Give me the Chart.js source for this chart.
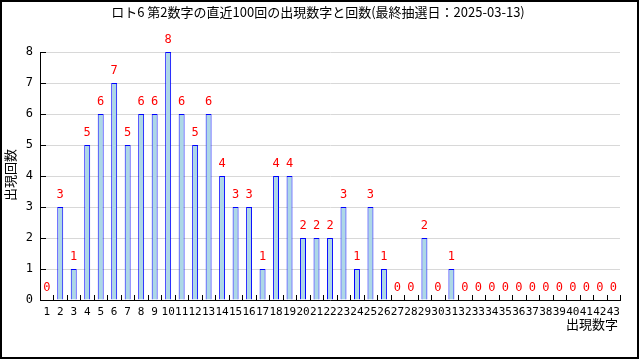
<!DOCTYPE html>
<html>
<head>
<meta charset="utf-8">
<script src="https://cdn.jsdelivr.net/npm/chart.js@4"></script>
<style>
  html, body { margin: 0; padding: 0; background: #fff; }
  #wrap { width: 640px; height: 360px; }
</style>
</head>
<body>
<div id="wrap"><canvas id="chart" width="640" height="360"></canvas></div>
<script>
// ---- data ----
const numbers = ['1','2','3','4','5','6','7','8','9','10','11','12','13','14','15','16','17','18','19','20','21','22',
                 '23','24','25','26','27','28','29','30','31','32','33','34','35','36','37','38','39','40','41','42','43'];
const counts = [0,3,1,5,6,7,5,6,6,8, 6,5,6,4,3,3,1,4,4,2, 2,2,3,1,3,1,0,0,2,0, 1,0,0,0,0,0,0,0,0,0, 0,0,0];
const yTicks = [0,1,2,3,4,5,6,7,8];

const titleText = 'ロト6 第2数字の直近100回の出現数字と回数(最終抽選日：2025-03-13)';
const yTitle = '出現回数';
const xTitle = '出現数字';

const jpFont = '"Noto Sans CJK JP", "DejaVu Sans", sans-serif';
const numFont = '"DejaVu Sans Mono", monospace';

// labels, inward ticks, titles and frame
const decorations = {
    id: 'decorations',
    afterDraw(chart) {
        const { ctx, chartArea: area, scales: { x, y } } = chart;
        ctx.save();

        // inward tick marks
        ctx.strokeStyle = '#000';
        ctx.lineWidth = 1;
        ctx.beginPath();
        yTicks.forEach((t) => {
            const py = Math.round(y.getPixelForValue(t)) + 0.5;
            ctx.moveTo(area.left, py);
            ctx.lineTo(area.left + 6, py);
        });
        for (let i = 0; i <= numbers.length; i += 1) {
            let px;
            if (i === 0) px = area.left;
            else if (i === numbers.length) px = area.right;
            else px = (x.getPixelForValue(i - 1) + x.getPixelForValue(i)) / 2;
            px = Math.round(px) + 0.5;
            ctx.moveTo(px, area.bottom);
            ctx.lineTo(px, area.bottom - 5);
        }
        ctx.stroke();

        // value labels
        ctx.fillStyle = '#ff0000';
        ctx.font = '12px ' + numFont;
        ctx.textAlign = 'center';
        ctx.textBaseline = 'middle';
        const meta = chart.getDatasetMeta(0);
        meta.data.forEach((bar, i) => {
            ctx.fillText(String(counts[i]), bar.x, y.getPixelForValue(counts[i]) - 12);
        });

        // title
        ctx.fillStyle = '#000';
        ctx.font = '13px ' + jpFont;
        ctx.fillText(titleText, 318, 12);

        // x axis title
        ctx.textAlign = 'right';
        ctx.fillText(xTitle, 618, 324);

        // y axis title
        ctx.translate(10, 175);
        ctx.rotate(-Math.PI / 2);
        ctx.textAlign = 'center';
        ctx.fillText(yTitle, 0, 0);
        ctx.restore();

        // outer frame
        ctx.save();
        ctx.strokeStyle = '#000';
        ctx.lineWidth = 2;
        ctx.strokeRect(1, 1, 637, 357);
        ctx.restore();
    }
};

new Chart(document.getElementById('chart'), {
    type: 'bar',
    data: {
        labels: numbers,
        datasets: [{
            data: counts,
            backgroundColor: '#add8e6',
            borderColor: '#0000ff',
            borderWidth: (c) => (c.raw === 0 ? 0 : 1),
            barPercentage: 0.44,
            categoryPercentage: 1.0
        }]
    },
    options: {
        responsive: false,
        animation: false,
        events: [],
        layout: { padding: { left: 0, right: 20, top: 52, bottom: 0 } },
        plugins: { legend: { display: false }, title: { display: false }, tooltip: { enabled: false } },
        scales: {
            x: {
                grid: { display: false, drawTicks: false },
                border: { display: true, color: '#000', width: 1 },
                ticks: {
                    color: '#000',
                    font: { family: numFont, size: 11 },
                    padding: 6,
                    maxRotation: 0,
                    autoSkip: false
                },
                afterFit: (scale) => { scale.height = 60; }
            },
            y: {
                min: 0,
                max: 8,
                afterBuildTicks: (scale) => { scale.ticks = yTicks.map((v) => ({ value: v })); },
                grid: { color: '#d8d8d8', drawTicks: false },
                border: { display: true, color: '#000', width: 1 },
                ticks: {
                    color: '#000',
                    font: { family: numFont, size: 12 },
                    padding: 7
                },
                afterFit: (scale) => { scale.width = 40; }
            }
        }
    },
    plugins: [decorations]
});
</script>
</body>
</html>
